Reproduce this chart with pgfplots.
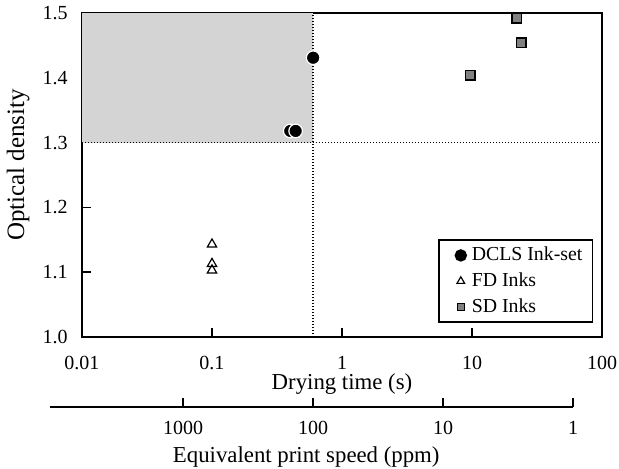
\documentclass[border=0pt]{standalone}
\usepackage{fontspec}
\setmainfont{Liberation Serif}
\usepackage{pgfplots}
\pgfplotsset{compat=1.18}
\definecolor{shade}{RGB}{212,212,212}
\definecolor{sdgray}{RGB}{128,128,128}

\begin{document}
\begin{tikzpicture}
% 1 px of the reference = 0.5pt, origin = lower left corner of the main axis
\useasboundingbox (-41pt,-65.5pt) rectangle (268.5pt,168.5pt);

\begin{axis}[
    scale only axis,
    width=260pt, height=162pt,
    xmode=log,
    xmin=0.01, xmax=100,
    ymin=1.0, ymax=1.5,
    clip=false,
    axis line style={line width=1pt},
    xtick={0.01,0.1,1,10,100},
    xticklabels={0.01,0.1,1,10,100},
    ytick={1.0,1.1,1.2,1.3,1.4,1.5},
    xminorticks=false,
    tick align=inside,
    xtick pos=bottom, ytick pos=left,
    major tick length=4.5pt,
    tick style={line width=0.8pt, black},
    /pgf/number format/assume math mode=true,
    yticklabel style={/pgf/number format/fixed,/pgf/number format/precision=1,
        /pgf/number format/fixed zerofill, anchor=east, inner sep=0pt, xshift=-7pt},
    xticklabel style={anchor=center, yshift=-13pt},
    ticklabel style={font=\fontsize{10}{11}\selectfont},
    xlabel={Drying time (s)},
    xlabel style={at={(axis description cs:0.5,-0.145)}, anchor=center,
        font=\fontsize{11.4}{13}\selectfont},
    ylabel={Optical density},
    ylabel style={at={(axis description cs:-0.123,0.531)}, anchor=center,
        font=\fontsize{12.5}{14}\selectfont},
    legend style={at={(axis description cs:0.983,0.043)}, anchor=south east,
        draw=black, line width=0.8pt, font=\fontsize{9.9}{11}\selectfont,
        inner xsep=3pt, inner ysep=1.5pt, row sep=0.5pt},
    legend cell align=left,
    legend image code/.code={
        \path[draw=none, fill=none] (-8pt,-2pt) rectangle (3.5pt,2pt);
        \draw[#1] plot coordinates {(0pt,0pt)};
    },
]

% shaded target region
\addplot[forget plot, draw=none, fill=shade] coordinates {
    (0.01,1.3) (0.6,1.3) (0.6,1.5) (0.01,1.5)
} -- cycle;

% dotted reference lines
\addplot[forget plot, black, line width=0.7pt, dash pattern=on 0.6pt off 0.9pt]
    coordinates {(0.6,1.0) (0.6,1.5)};
\addplot[forget plot, black, line width=0.7pt, dash pattern=on 0.6pt off 0.9pt]
    coordinates {(0.01,1.3) (100,1.3)};

% DCLS ink-set
\addplot[forget plot, only marks, mark=*, mark size=3.4pt,
    mark options={fill=black, draw=white, line width=0.6pt}]
    coordinates {(0.40,1.318) (0.44,1.318) (0.6,1.431)};

% FD inks
\addplot[forget plot, only marks, mark=triangle, mark size=2.7pt,
    mark options={draw=black, fill=white, line width=0.6pt}]
    coordinates {(0.1,1.143) (0.1,1.113) (0.1,1.103)};

% SD inks
\addplot[forget plot, only marks, mark=square*, mark size=2.4pt,
    mark options={fill=sdgray, draw=black, line width=0.8pt}]
    coordinates {(22,1.492) (24,1.454) (9.7,1.404)};

% legend (smaller symbols than in the plot)
\addlegendimage{only marks, mark=*, mark size=2.7pt, mark options={fill=black, draw=black}}
\addlegendentry{DCLS Ink-set}
\addlegendimage{only marks, mark=triangle, mark size=2.2pt, mark options={draw=black, line width=0.6pt}}
\addlegendentry{FD Inks}
\addlegendimage{only marks, mark=square*, mark size=1.8pt, mark options={fill=sdgray, draw=black, line width=0.7pt}}
\addlegendentry{SD Inks}
\end{axis}

% equivalent print speed scale
\begin{axis}[
    at={(-16pt,-35pt)}, anchor=south west,
    scale only axis,
    width=261.5pt, height=5pt,
    xmode=log, x dir=reverse,
    xmin=1, xmax=10580,
    ymin=0, ymax=1,
    hide y axis,
    axis x line*=bottom,
    x axis line style={-, line width=1pt},
    xtick={1,10,100,1000},
    xticklabels={1,10,100,1000},
    xminorticks=false,
    tick align=inside,
    major tick length=4.5pt,
    tick style={line width=0.8pt, black},
    xticklabel style={anchor=center, yshift=-10.5pt, font=\fontsize{10}{11}\selectfont},
    xlabel={Equivalent print speed (ppm)},
    xlabel style={at={(axis description cs:0.49,0)}, anchor=center, yshift=-25pt,
        font=\fontsize{11.4}{13}\selectfont},
]
\addplot[draw=none] coordinates {(10,0.5)};
\end{axis}
\end{tikzpicture}
\end{document}
